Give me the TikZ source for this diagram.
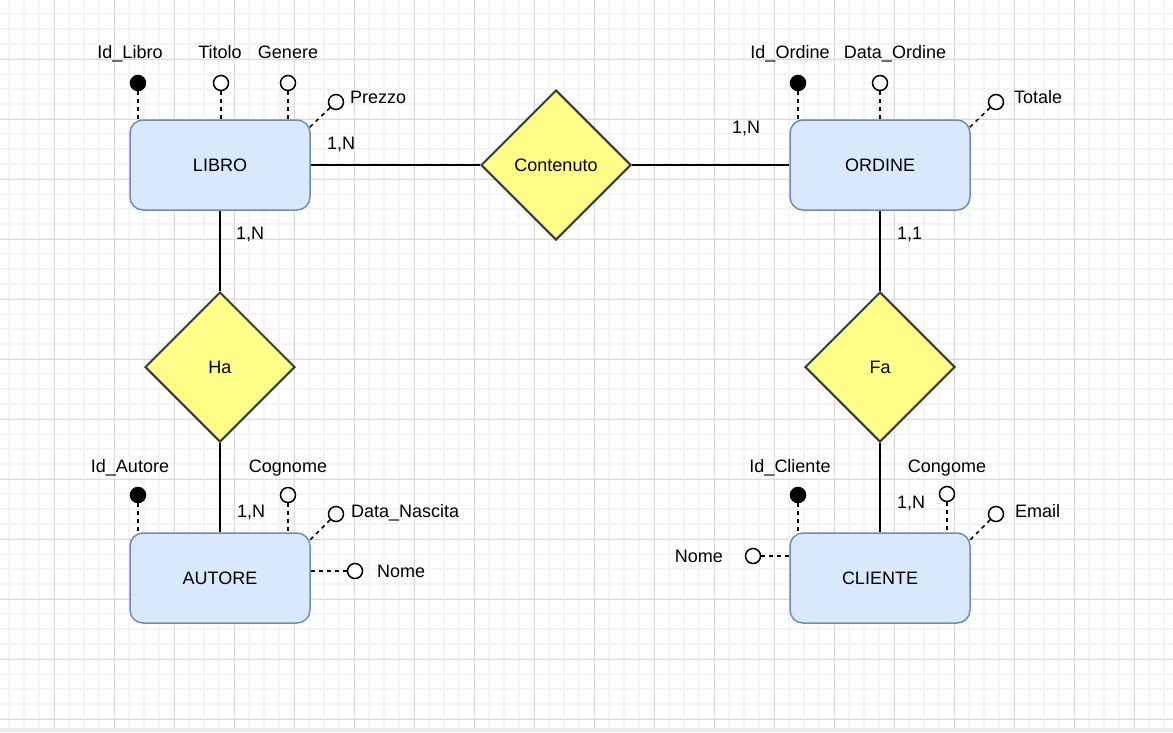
\documentclass[tikz,border=0pt]{standalone}
\usepackage{fontspec}
\setmainfont{Liberation Sans}
\usetikzlibrary{shapes.geometric}
\definecolor{entfill}{HTML}{DAE8FC}
\definecolor{entdraw}{HTML}{6C8EBF}
\definecolor{relfill}{HTML}{FFFF88}
\definecolor{reldraw}{HTML}{36393D}
\definecolor{gridminor}{HTML}{F4F4F4}
\definecolor{gridmajor}{HTML}{DADADA}
\newcommand{\erfont}{\fontsize{18}{22}\selectfont}
\begin{document}
\begin{tikzpicture}[
x=1pt, y=-1pt,
every node/.style={font=\erfont},
entity/.style={
draw=entdraw,
fill=entfill,
line width=1.5pt,
rounded corners=13pt,
minimum width=180pt,
minimum height=90pt
},
relation/.style={
draw=reldraw,
fill=relfill,
line width=2pt,
diamond,
aspect=1,
inner sep=0pt,
minimum width=150pt,
minimum height=150pt
},
attr/.style={circle, draw, fill=white, line width=1.5pt, inner sep=0pt, minimum size=15pt},
keyattr/.style={attr, fill=black},
attrline/.style={line width=1.5pt, dash pattern=on 4pt off 4pt},
link/.style={line width=1.5pt},
txt/.style={inner sep=0pt}
]
\useasboundingbox (0,0) rectangle (1173,732);
\foreach \gx in {9,24,...,1173} \draw[gridminor, line width=1.5pt] (\gx,0) -- (\gx,728);
\foreach \gy in {14,29,...,728} \draw[gridminor, line width=1.5pt] (0,\gy) -- (1173,\gy);
\foreach \gx in {54,114,...,1173} \draw[gridmajor, line width=1pt] (\gx,0) -- (\gx,728);
\foreach \gy in {59,119,...,728} \draw[gridmajor, line width=1pt] (0,\gy) -- (1173,\gy);
\fill[black!8] (0,728) rectangle (1173,732);

\node[entity] (libro) at (220,165) {LIBRO};
\node[entity] (ordine) at (880,165) {ORDINE};
\node[entity] (autore) at (220,578) {AUTORE};
\node[entity] (cliente) at (880,578) {CLIENTE};

\node[relation] (contenuto) at (556,165) {Contenuto};
\node[relation] (ha) at (220,367) {Ha};
\node[relation] (fa) at (880,367) {Fa};

\draw[link] (libro) -- (contenuto);
\draw[link] (contenuto) -- (ordine);
\draw[link] (libro) -- (ha);
\draw[link] (ha) -- (autore);
\draw[link] (ordine) -- (fa);
\draw[link] (fa) -- (cliente);

\node[txt, anchor=base west] (c1) at (327,149) {1,N};
\node[txt, anchor=base west] (c2) at (236,239) {1,N};
\node[txt, anchor=base west] (c3) at (732,133) {1,N};
\node[txt, anchor=base west] (c4) at (897,239) {1,1};
\node[txt, anchor=base west] (c5) at (237,517) {1,N};
\node[txt, anchor=base west] (c6) at (897,508) {1,N};

\node[keyattr] (idlibro) at (138,83) {};
\node[attr] (titolo) at (221,83) {};
\node[attr] (genere) at (288,83) {};
\node[attr] (prezzo) at (336,102) {};
\draw[attrline] (idlibro) -- (idlibro |- libro.north);
\draw[attrline] (titolo) -- (titolo |- libro.north);
\draw[attrline] (genere) -- (genere |- libro.north);
\draw[attrline] (prezzo) -- ([xshift=-1pt,yshift=-8pt]libro.north east);
\node[txt, anchor=base] (lidlibro) at (130,58) {Id\_Libro};
\node[txt, anchor=base] (ltitolo) at (220,58) {Titolo};
\node[txt, anchor=base] (lgenere) at (288,58) {Genere};
\node[txt, anchor=base west] (lprezzo) at (350,103) {Prezzo};

\node[keyattr] (idordine) at (798,83) {};
\node[attr] (dataordine) at (880,83) {};
\node[attr] (totale) at (996,102) {};
\draw[attrline] (idordine) -- (idordine |- ordine.north);
\draw[attrline] (dataordine) -- (dataordine |- ordine.north);
\draw[attrline] (totale) -- ([xshift=-1pt,yshift=-8pt]ordine.north east);
\node[txt, anchor=base] (lidordine) at (790,58) {Id\_Ordine};
\node[txt, anchor=base] (ldataordine) at (895,58) {Data\_Ordine};
\node[txt, anchor=base west] (ltotale) at (1014,103) {Totale};

\node[keyattr] (idautore) at (138,495) {};
\node[attr] (cognome) at (288,495) {};
\node[attr] (datanascita) at (336,514) {};
\node[attr] (nomeautore) at (355,571) {};
\draw[attrline] (idautore) -- (idautore |- autore.north);
\draw[attrline] (cognome) -- (cognome |- autore.north);
\draw[attrline] (datanascita) -- ([xshift=-1pt,yshift=-8pt]autore.north east);
\draw[attrline] (autore.east |- nomeautore) -- (nomeautore);
\node[txt, anchor=base] (lidautore) at (130,472) {Id\_Autore};
\node[txt, anchor=base] (lcognome) at (288,472) {Cognome};
\node[txt, anchor=base west] (ldatanascita) at (351,517) {Data\_Nascita};
\node[txt, anchor=base west] (lnomeautore) at (377,577) {Nome};

\node[keyattr] (idcliente) at (798,495) {};
\node[attr] (congome) at (947,494) {};
\node[attr] (email) at (996,514) {};
\node[attr] (nomecliente) at (753,556) {};
\draw[attrline] (idcliente) -- (idcliente |- cliente.north);
\draw[attrline] (congome) -- (congome |- cliente.north);
\draw[attrline] (email) -- ([xshift=-1pt,yshift=-8pt]cliente.north east);
\draw[attrline] (nomecliente) -- (cliente.west |- nomecliente);
\node[txt, anchor=base] (lidcliente) at (790,472) {Id\_Cliente};
\node[txt, anchor=base] (lcongome) at (947,472) {Congome};
\node[txt, anchor=base west] (lemail) at (1015,517) {Email};
\node[txt, anchor=base east] (lnomecliente) at (723,562) {Nome};
\end{tikzpicture}
\end{document}
